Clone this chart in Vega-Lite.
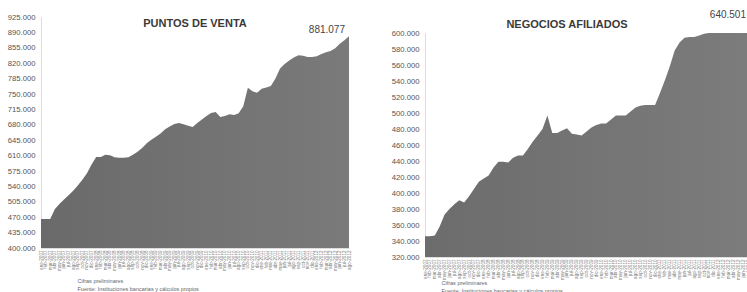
{
 "$schema": "https://vega.github.io/schema/vega-lite/v6.json",
 "background": "white",
 "padding": {"left": 7, "top": 10, "right": 0, "bottom": 0},
 "bounds": "flush",
 "spacing": 76,
 "config": {
  "locale": {"number": {"decimal": ",", "thousands": ".", "grouping": [3], "currency": ["", ""]}},
  "view": {"stroke": null},
  "font": "Liberation Sans",
  "axisY": {"grid": false, "ticks": false, "domain": true, "domainColor": "#dddddd", "labelFontSize": 7.7, "labelColor": "#555555", "labelPadding": 6, "title": null},
  "axisX": {"grid": false, "ticks": false, "domain": true, "domainColor": "#dddddd", "labelAngle": -90, "labelFontSize": 4.6, "labelColor": "#777777", "labelPadding": 2, "labelOverlap": false, "labelBound": false, "labelFlush": false, "titleFontSize": 5.5, "titleFontWeight": "normal", "titleColor": "#666666", "titleAnchor": "start", "titleAlign": "left", "titleBaseline": "top", "titleLineHeight": 8}
 },
 "data": {"values": [
  {"periodo": "ene-2007", "pv": 466000, "na": 346000},
  {"periodo": "feb-2007", "pv": 466000, "na": 346000},
  {"periodo": "mar-2007", "pv": 466000, "na": 347000},
  {"periodo": "abr-2007", "pv": 488000, "na": 358000},
  {"periodo": "may-2007", "pv": 500000, "na": 373000},
  {"periodo": "jun-2007", "pv": 510000, "na": 380000},
  {"periodo": "jul-2007", "pv": 520000, "na": 386000},
  {"periodo": "ago-2007", "pv": 530000, "na": 391000},
  {"periodo": "sep-2007", "pv": 542000, "na": 388000},
  {"periodo": "oct-2007", "pv": 555000, "na": 396000},
  {"periodo": "nov-2007", "pv": 570000, "na": 405000},
  {"periodo": "dic-2007", "pv": 590000, "na": 414000},
  {"periodo": "ene-2008", "pv": 607000, "na": 418000},
  {"periodo": "feb-2008", "pv": 607000, "na": 422000},
  {"periodo": "mar-2008", "pv": 612000, "na": 432000},
  {"periodo": "abr-2008", "pv": 611000, "na": 439000},
  {"periodo": "may-2008", "pv": 606000, "na": 439000},
  {"periodo": "jun-2008", "pv": 605000, "na": 438000},
  {"periodo": "jul-2008", "pv": 605000, "na": 444000},
  {"periodo": "ago-2008", "pv": 606000, "na": 447000},
  {"periodo": "sep-2008", "pv": 612000, "na": 447000},
  {"periodo": "oct-2008", "pv": 619000, "na": 455000},
  {"periodo": "nov-2008", "pv": 627000, "na": 464000},
  {"periodo": "dic-2008", "pv": 638000, "na": 472000},
  {"periodo": "ene-2009", "pv": 646000, "na": 480000},
  {"periodo": "feb-2009", "pv": 653000, "na": 497000},
  {"periodo": "mar-2009", "pv": 660000, "na": 475000},
  {"periodo": "abr-2009", "pv": 670000, "na": 475000},
  {"periodo": "may-2009", "pv": 676000, "na": 478000},
  {"periodo": "jun-2009", "pv": 682000, "na": 481000},
  {"periodo": "jul-2009", "pv": 684000, "na": 474000},
  {"periodo": "ago-2009", "pv": 681000, "na": 473000},
  {"periodo": "sep-2009", "pv": 678000, "na": 472000},
  {"periodo": "oct-2009", "pv": 675000, "na": 477000},
  {"periodo": "nov-2009", "pv": 684000, "na": 482000},
  {"periodo": "dic-2009", "pv": 692000, "na": 485000},
  {"periodo": "ene-2010", "pv": 700000, "na": 487000},
  {"periodo": "feb-2010", "pv": 707000, "na": 487000},
  {"periodo": "mar-2010", "pv": 709000, "na": 492000},
  {"periodo": "abr-2010", "pv": 698000, "na": 497000},
  {"periodo": "may-2010", "pv": 700000, "na": 497000},
  {"periodo": "jun-2010", "pv": 704000, "na": 497000},
  {"periodo": "jul-2010", "pv": 702000, "na": 502000},
  {"periodo": "ago-2010", "pv": 706000, "na": 507000},
  {"periodo": "sep-2010", "pv": 722000, "na": 509000},
  {"periodo": "oct-2010", "pv": 764000, "na": 510000},
  {"periodo": "nov-2010", "pv": 756000, "na": 510000},
  {"periodo": "dic-2010", "pv": 753000, "na": 510000},
  {"periodo": "ene-2011", "pv": 762000, "na": 525000},
  {"periodo": "feb-2011", "pv": 765000, "na": 541000},
  {"periodo": "mar-2011", "pv": 768000, "na": 558000},
  {"periodo": "abr-2011", "pv": 785000, "na": 578000},
  {"periodo": "may-2011", "pv": 808000, "na": 588000},
  {"periodo": "jun-2011", "pv": 818000, "na": 594000},
  {"periodo": "jul-2011", "pv": 826000, "na": 595000},
  {"periodo": "ago-2011", "pv": 833000, "na": 595000},
  {"periodo": "sep-2011", "pv": 838000, "na": 597000},
  {"periodo": "oct-2011", "pv": 837000, "na": 599000},
  {"periodo": "nov-2011", "pv": 834000, "na": 603000},
  {"periodo": "dic-2011", "pv": 834000, "na": 608000},
  {"periodo": "ene-2012", "pv": 836000, "na": 612000},
  {"periodo": "feb-2012", "pv": 841000, "na": 616000},
  {"periodo": "mar-2012", "pv": 845000, "na": 620000},
  {"periodo": "abr-2012", "pv": 848000, "na": 625000},
  {"periodo": "may-2012", "pv": 854000, "na": 629000},
  {"periodo": "jun-2012", "pv": 864000, "na": 633000},
  {"periodo": "jul-2012", "pv": 872000, "na": 637000},
  {"periodo": "ago-2012", "pv": 881077, "na": 640501}
 ]},
 "hconcat": [
  {
   "width": 308,
   "height": 231,
   "title": {"text": "PUNTOS DE VENTA", "fontSize": 11, "fontWeight": "bold", "color": "#3a3a3a", "offset": -16, "font": "Liberation Sans"},
   "encoding": {
    "x": {"field": "periodo", "type": "ordinal", "sort": null, "scale": {"type": "point", "padding": 0},
          "axis": {"title": ["Cifras preliminares", "Fuente: Instituciones bancarias y cálculos propios"], "titleX": 36, "titleY": 30}},
    "y": {"field": "pv", "type": "quantitative", "scale": {"domain": [400000, 925000], "nice": false, "zero": false},
          "axis": {"values": [400000, 435000, 470000, 505000, 540000, 575000, 610000, 645000, 680000, 715000, 750000, 785000, 820000, 855000, 890000, 925000], "format": ",.0f"}}
   },
   "layer": [
    {"mark": {"type": "area", "clip": true, "color": {"gradient": "linear", "x1": 0, "x2": 1, "y1": 0, "y2": 0, "stops": [{"offset": 0, "color": "#6a6a6a"}, {"offset": 1, "color": "#7a7a7a"}]}}},
    {"transform": [{"filter": "datum.periodo == 'ago-2012'"}],
     "mark": {"type": "text", "align": "right", "dx": -4, "dy": -6, "fontSize": 10, "color": "#444444", "font": "Liberation Sans"},
     "encoding": {"text": {"field": "pv", "type": "quantitative", "format": ",.0f"}}}
   ]
  },
  {
   "width": 328,
   "height": 240,
   "title": {"text": "NEGOCIOS AFILIADOS", "fontSize": 11, "fontWeight": "bold", "color": "#3a3a3a", "offset": -20, "dx": -22, "font": "Liberation Sans"},
   "encoding": {
    "x": {"field": "periodo", "type": "ordinal", "sort": null, "scale": {"type": "point", "padding": 0},
          "axis": {"title": ["Cifras preliminares", "Fuente: Instituciones bancarias y cálculos propios"], "titleX": 16, "titleY": 23}},
    "y": {"field": "na", "type": "quantitative", "scale": {"domain": [320000, 600000], "range": [240, 16], "clamp": true, "nice": false, "zero": false},
          "axis": {"values": [320000, 340000, 360000, 380000, 400000, 420000, 440000, 460000, 480000, 500000, 520000, 540000, 560000, 580000, 600000], "format": ",.0f"}}
   },
   "layer": [
    {"mark": {"type": "area", "clip": true, "color": {"gradient": "linear", "x1": 0, "x2": 1, "y1": 0, "y2": 0, "stops": [{"offset": 0, "color": "#6c6c6c"}, {"offset": 1, "color": "#7c7c7c"}]}}},
    {"transform": [{"filter": "datum.periodo == 'ago-2012'"}],
     "mark": {"type": "text", "align": "right", "dx": -7, "dy": -18, "fontSize": 10, "color": "#444444", "font": "Liberation Sans"},
     "encoding": {"text": {"field": "na", "type": "quantitative", "format": ",.0f"}}}
   ]
  }
 ]
}
